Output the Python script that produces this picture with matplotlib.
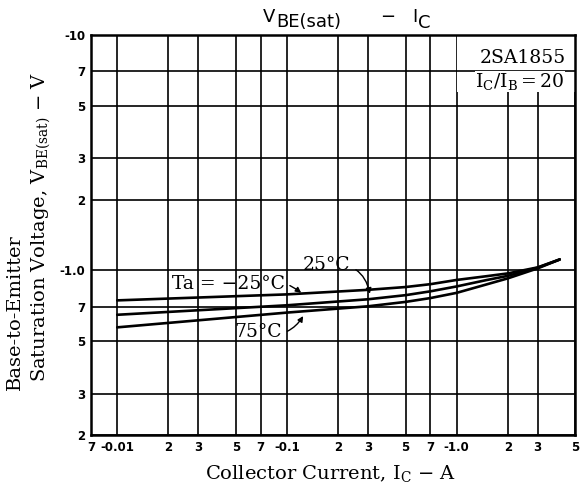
"""
VBE(sat) - IC curve for 2SA1855 (datasheet style chart)
"""
import numpy as np
import matplotlib
matplotlib.use('Agg')
import matplotlib.pyplot as plt
from matplotlib.ticker import FixedLocator, FixedFormatter, NullLocator
from matplotlib.patches import Rectangle

# collector current |IC| in A (PNP part, shown as negative on the chart)
ic_points = [0.01, 0.1, 0.3, 0.5, 0.7, 1.0, 1.5, 2.0, 3.0, 4.05]

# |VBE(sat)| in V for each ambient temperature
vbe_m25 = [0.746, 0.791, 0.827, 0.850, 0.874, 0.911, 0.945, 0.971, 1.030, 1.113]
vbe_25 = [0.648, 0.711, 0.754, 0.785, 0.815, 0.855, 0.910, 0.948, 1.027, 1.113]
vbe_75 = [0.573, 0.662, 0.704, 0.735, 0.763, 0.803, 0.872, 0.925, 1.020, 1.113]

x_ticks = [0.007, 0.01, 0.02, 0.03, 0.05, 0.07, 0.1, 0.2, 0.3, 0.5, 0.7, 1.0, 2.0, 3.0, 5.0]
x_labels = ['7', '-0.01', '2', '3', '5', '7', '-0.1', '2', '3', '5', '7', '-1.0', '2', '3', '5']
y_ticks = [0.2, 0.3, 0.5, 0.7, 1.0, 2.0, 3.0, 5.0, 7.0, 10.0]
y_labels = ['2', '3', '5', '7', '-1.0', '2', '3', '5', '7', '-10']

SERIF = 'DejaVu Serif'
W, H = 587, 486

fig = plt.figure(figsize=(W / 100, H / 100), dpi=100)
ax = fig.add_axes([0.155, 0.105, 0.825, 0.823])

ax.set_xscale('log')
ax.set_yscale('log')
ax.set_xlim(0.007, 5.0)
ax.set_ylim(0.2, 10.0)

ax.xaxis.set_major_locator(FixedLocator(x_ticks))
ax.xaxis.set_major_formatter(FixedFormatter(x_labels))
ax.xaxis.set_minor_locator(NullLocator())
ax.yaxis.set_major_locator(FixedLocator(y_ticks))
ax.yaxis.set_major_formatter(FixedFormatter(y_labels))
ax.yaxis.set_minor_locator(NullLocator())
ax.tick_params(length=0, labelsize=8.5, pad=4)
for lab in ax.get_xticklabels() + ax.get_yticklabels():
    lab.set_fontweight('bold')

ax.set_axisbelow(True)
ax.grid(True, color='black', linewidth=1.2)
for sp in ax.spines.values():
    sp.set_linewidth(1.8)

# curves
for v in (vbe_m25, vbe_25, vbe_75):
    ax.plot(ic_points, v, color='black', linewidth=1.9, zorder=3, solid_capstyle='round')

# part number box (top right)
ax.add_patch(Rectangle((1.0, 5.75), 4.0, 4.25, facecolor='white', edgecolor='none', zorder=1.5))
ax.plot([1.0, 5.0], [7.0, 7.0], color='black', linewidth=1.2, zorder=1.6)
ax.text(0.981, 0.965, '2SA1855', transform=ax.transAxes, ha='right', va='top',
        fontsize=13.5, family=SERIF, zorder=4)
ax.text(0.978, 0.91, r'$\mathregular{I_C/I_B = 20}$', transform=ax.transAxes, ha='right', va='top',
        fontsize=13.5, family=SERIF, math_fontfamily='dejavuserif', zorder=4,
        bbox=dict(facecolor='white', edgecolor='none', pad=0.3))

# temperature labels
arrow = dict(arrowstyle='-|>', color='black', linewidth=1.0, mutation_scale=8)
ax.annotate('Ta = \u221225\u00b0C', xy=(0.125, 0.79), xytext=(0.045, 0.872),
            ha='center', va='center', fontsize=13.5, family=SERIF,
            arrowprops=dict(arrow, connectionstyle='arc3,rad=-0.3'))
ax.annotate('25\u00b0C', xy=(0.31, 0.775), xytext=(0.172, 1.05),
            ha='center', va='center', fontsize=13.5, family=SERIF,
            arrowprops=dict(arrow, connectionstyle='arc3,rad=-0.5'))
ax.annotate('75\u00b0C', xy=(0.127, 0.655), xytext=(0.0677, 0.546),
            ha='center', va='center', fontsize=13.5, family=SERIF,
            arrowprops=dict(arrow, connectionstyle='arc3,rad=0.4'))

# title, built from pieces so the subscripts stay full size
title_kw = dict(fontsize=13, family='DejaVu Sans', va='baseline', ha='left')
fig.text(263 / W, 1 - 22 / H, 'V', **title_kw)
fig.text(276 / W, 1 - 27 / H, 'BE(sat)', **title_kw)
fig.text(388 / W, 1 - 22 / H, '\u2212', fontsize=13, family='DejaVu Sans', va='baseline', ha='center')
fig.text(412 / W, 1 - 22 / H, 'I', **title_kw)
fig.text(418 / W, 1 - 28 / H, 'C', **title_kw)

# axis labels
fig.text(330 / W, 1 - 473 / H, r'Collector Current, $\mathregular{I_C}$ $-$ A',
         ha='center', va='center', fontsize=14, family=SERIF, math_fontfamily='dejavuserif')
fig.text(15 / W, 1 - 390 / H, 'Base-to-Emitter', rotation=90, ha='center', va='bottom',
         fontsize=14, family=SERIF)
fig.text(41 / W, 1 - 382 / H, r'Saturation Voltage, $\mathregular{V_{BE(sat)}}$ $-$ V',
         rotation=90, ha='center', va='bottom', fontsize=14, family=SERIF,
         math_fontfamily='dejavuserif')

fig.savefig('out.png', dpi=100)
